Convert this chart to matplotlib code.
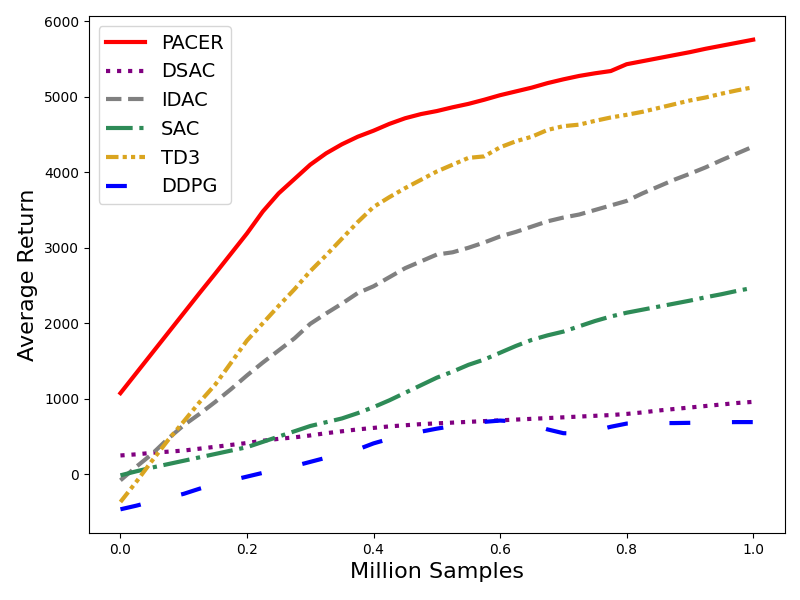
import numpy as np
import matplotlib.pyplot as plt

# million samples, every 0.025
steps = np.linspace(0.0, 1.0, 41)

pacer = [1075, 1340, 1605, 1870, 2135, 2400, 2660, 2925, 3190, 3480,
         3720, 3910, 4100, 4250, 4370, 4470, 4550, 4640, 4715, 4770,
         4810, 4860, 4905, 4960, 5020, 5070, 5120, 5180, 5230, 5275,
         5310, 5340, 5430, 5470, 5510, 5550, 5590, 5635, 5675, 5715, 5755]
dsac = [250, 265, 285, 300, 315, 340, 365, 390, 415, 445,
        470, 490, 515, 545, 570, 595, 615, 635, 650, 665,
        675, 685, 695, 705, 715, 725, 735, 745, 755, 765,
        775, 785, 800, 820, 845, 865, 885, 905, 925, 945, 960]
idac = [-79, 100, 270, 470, 650, 800, 960, 1130, 1310, 1480,
        1640, 1800, 1993, 2130, 2260, 2400, 2490, 2610, 2730, 2820,
        2910, 2940, 3000, 3070, 3150, 3210, 3280, 3350, 3400, 3440,
        3500, 3560, 3620, 3720, 3810, 3900, 3980, 4065, 4160, 4250, 4340]
sac = [-13, 40, 90, 135, 180, 225, 270, 315, 360, 430,
       500, 570, 640, 690, 740, 810, 890, 980, 1080, 1180,
       1280, 1360, 1450, 1520, 1610, 1700, 1780, 1840, 1890, 1960,
       2030, 2090, 2140, 2180, 2220, 2260, 2300, 2345, 2385, 2430, 2470]
td3 = [-366, -100, 180, 450, 700, 955, 1190, 1480, 1772, 2000,
       2230, 2450, 2690, 2900, 3120, 3340, 3540, 3670, 3790, 3900,
       4010, 4100, 4190, 4210, 4330, 4410, 4470, 4560, 4610, 4630,
       4680, 4725, 4760, 4800, 4850, 4900, 4950, 4990, 5040, 5085, 5125]
ddpg = [-463, -415, -360, -310, -258, -190, -130, -80, -30, 20,
        60, 110, 165, 220, 270, 330, 410, 470, 520, 565,
        605, 640, 670, 695, 712, 700, 660, 595, 545, 540,
        578, 630, 672, 678, 679, 679, 682, 686, 690, 692, 692]

names = ["PACER", "DSAC", "IDAC", "SAC", "TD3", "DDPG"]
series = [pacer, dsac, idac, sac, td3, ddpg]
colors = ["red", "purple", "gray", "seagreen", "goldenrod", "blue"]
styles = ["-", ":", "--", "-.", (0, (3, 1, 1, 1, 1, 1)), (0, (5, 10))]

fig, ax = plt.subplots(figsize=(8, 6), dpi=100)

for name, vals, cl, ls in zip(names, series, colors, styles):
    ax.plot(steps, vals, label=name, color=cl, linestyle=ls, linewidth=3)

ax.set_xlabel("Million Samples", fontsize=16)
ax.set_ylabel("Average Return", fontsize=16)
ax.legend(loc="upper left", fontsize=14)

fig.subplots_adjust(left=0.111, right=0.981, top=0.973, bottom=0.112)
fig.savefig("out.png")
